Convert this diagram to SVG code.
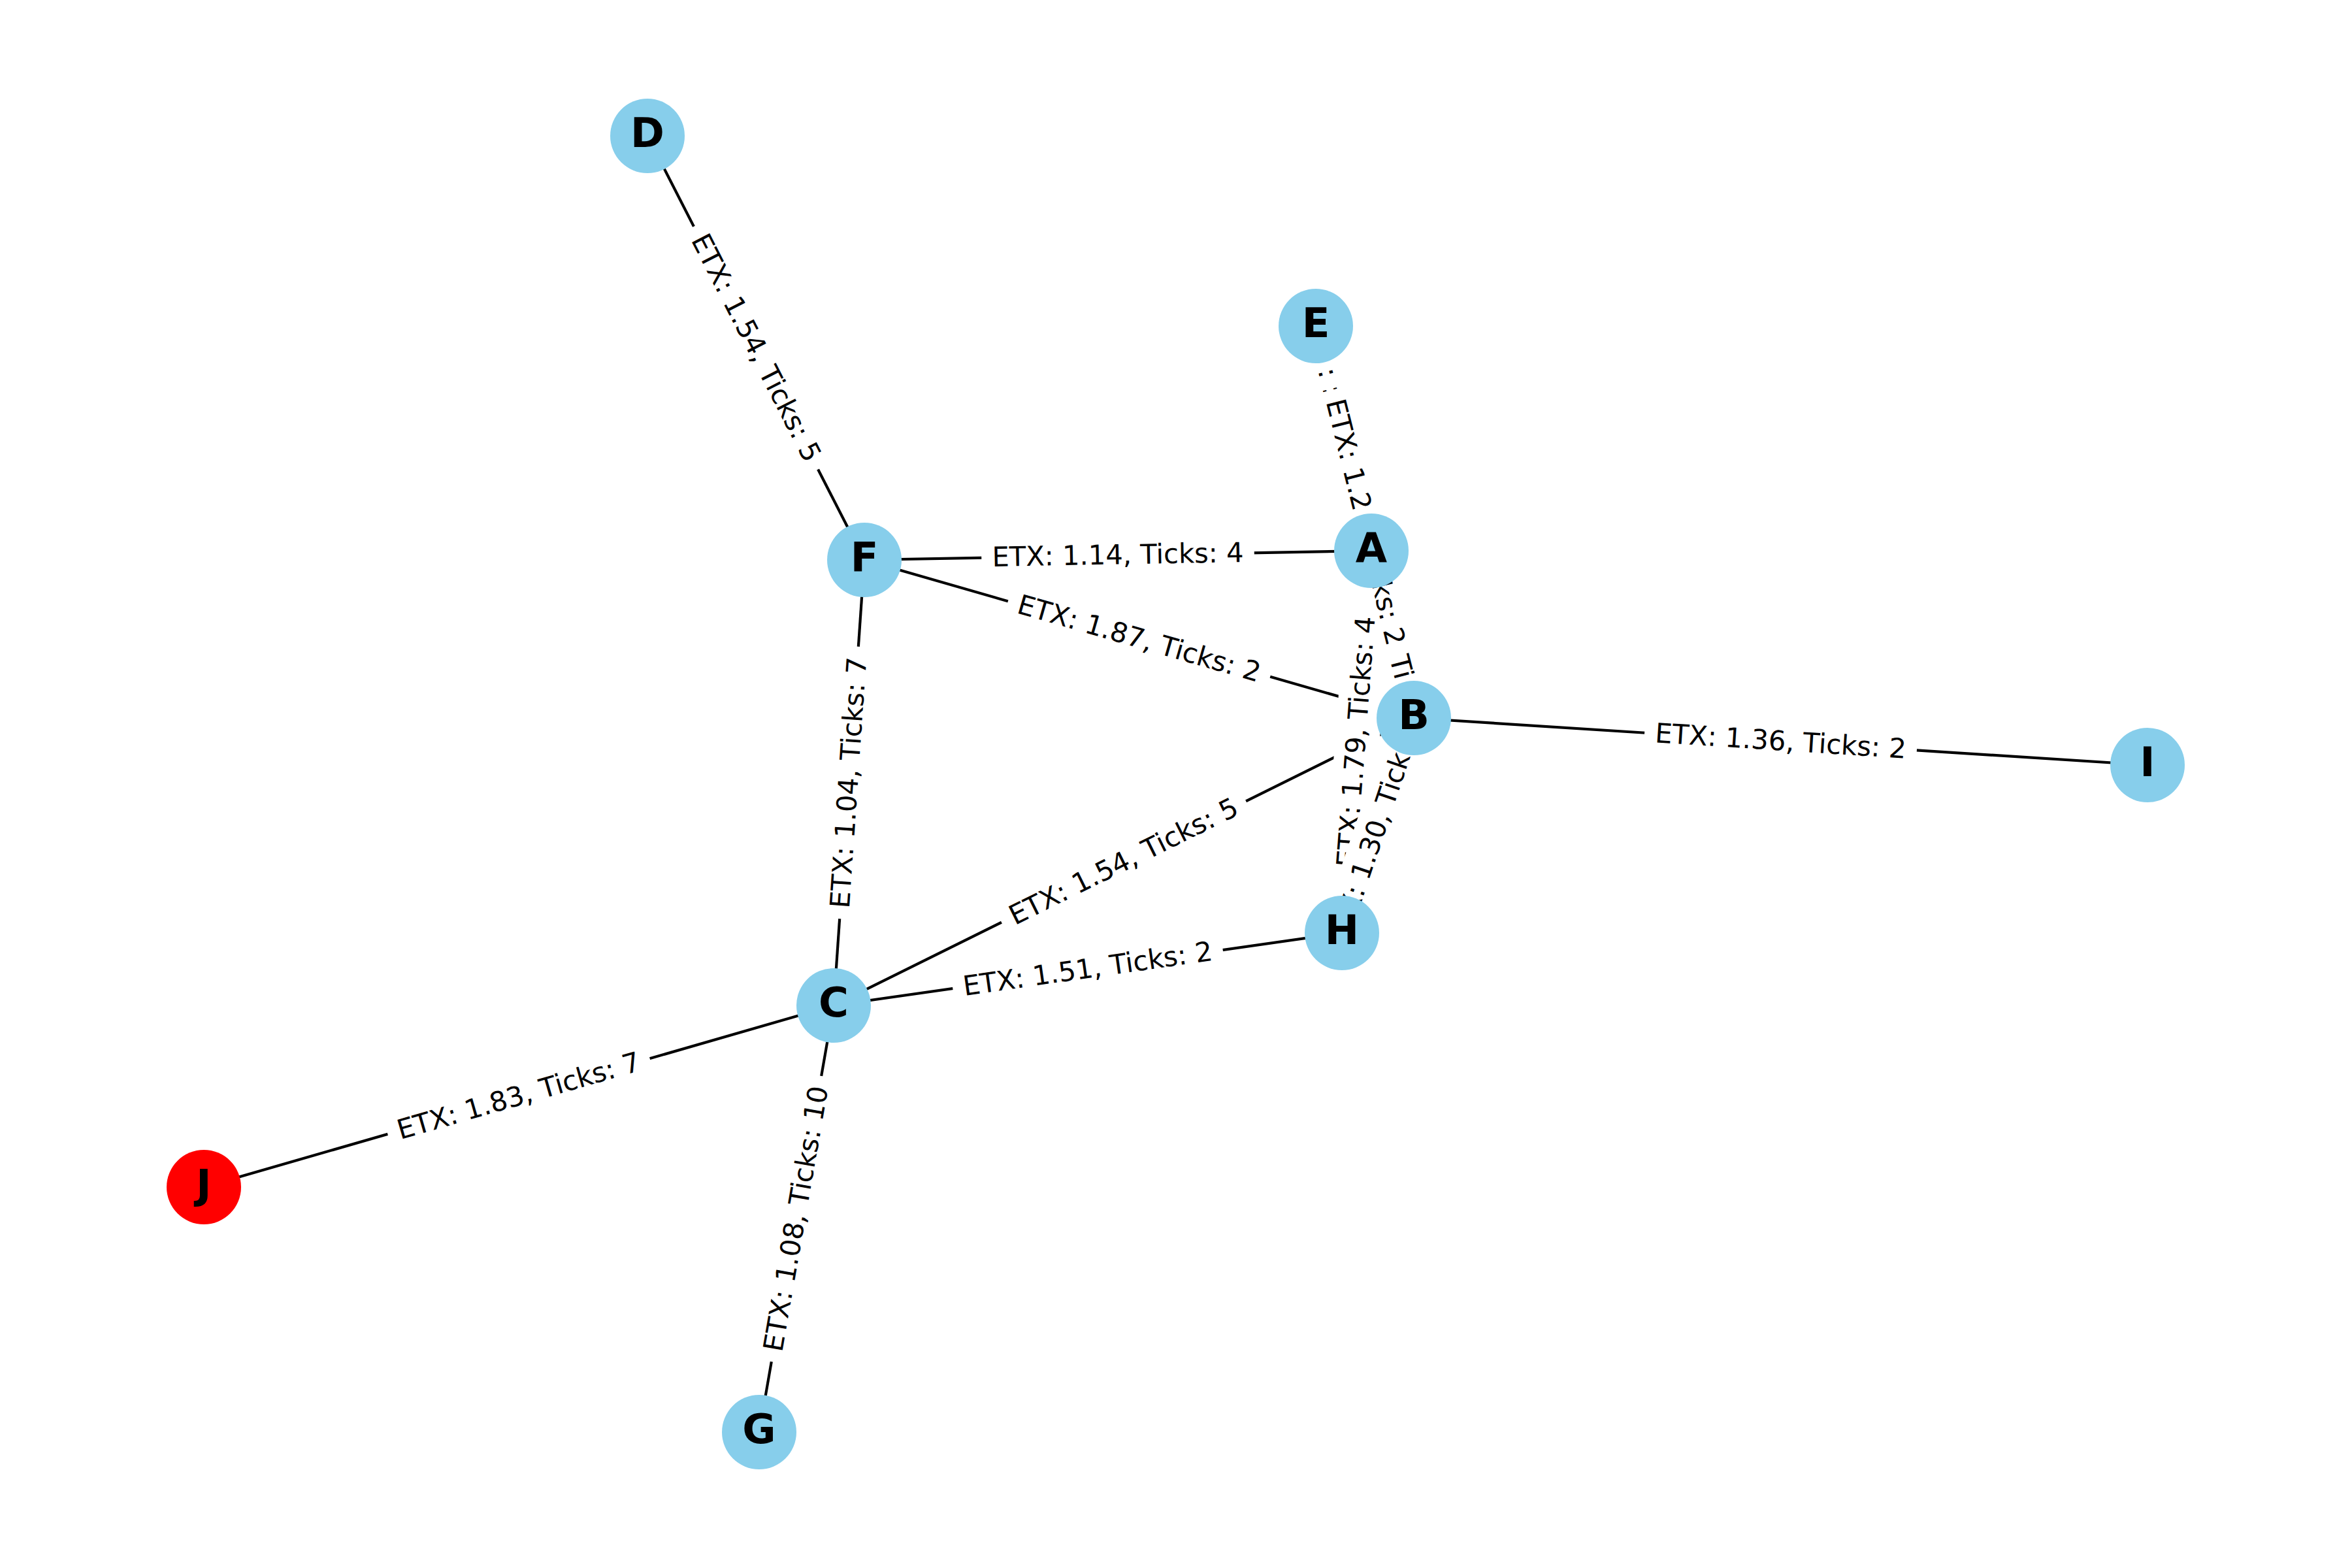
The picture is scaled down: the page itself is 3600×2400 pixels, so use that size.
<svg xmlns="http://www.w3.org/2000/svg" width="3600" height="2400" viewBox="0 0 3600 2400">
<style>
.e line{stroke:#000;stroke-width:4.17;stroke-linecap:butt}
.lb rect{fill:#fff;stroke:#fff;stroke-width:2}
.lb text{font-family:'DejaVu Sans','Liberation Sans',sans-serif;font-size:41.67px;fill:#000}
.n circle{fill:#87CEEB}
.n.red circle{fill:#FF0000}
.n text{font-family:'DejaVu Sans','Liberation Sans',sans-serif;font-weight:bold;font-size:62.5px;fill:#000;text-anchor:middle}
</style>
<rect width="3600" height="2400" fill="#fff"/>
<g id="connectors">
<g class="e">
<line x1="991" y1="208" x2="1323" y2="857"/>
<line x1="1323" y1="857" x2="2099" y2="843"/>
<line x1="1323" y1="857" x2="2164" y2="1099"/>
<line x1="1323" y1="857" x2="1276" y2="1539"/>
<line x1="1276" y1="1539" x2="2164" y2="1099"/>
<line x1="1276" y1="1539" x2="2054" y2="1428"/>
<line x1="1276" y1="1539" x2="312" y2="1817"/>
<line x1="1276" y1="1539" x2="1162" y2="2192"/>
<line x1="2164" y1="1099" x2="3287" y2="1171"/>
<line x1="2099" y1="843" x2="2054" y2="1428"/>
<line x1="2054" y1="1428" x2="2164" y2="1099"/>
<line x1="2014" y1="499" x2="2164" y2="1099"/>
<line x1="2099" y1="843" x2="2164" y2="1099"/>
<line x1="2014" y1="499" x2="2099" y2="843"/>
</g>
<g class="lb">
<g transform="translate(1157,532.5) rotate(62.9)"><rect x="-207.8" y="-32" width="415.6" height="66" rx="12.5"/><text x="0" y="13.5" text-anchor="middle">ETX: 1.54, Ticks: 5</text></g>
<g transform="translate(1711,850) rotate(-1.03)"><rect x="-207.8" y="-32" width="415.6" height="66" rx="12.5"/><text x="0" y="13.5" text-anchor="middle">ETX: 1.14, Ticks: 4</text></g>
<g transform="translate(1743.5,978) rotate(16.05)"><rect x="-207.8" y="-32" width="415.6" height="66" rx="12.5"/><text x="0" y="13.5" text-anchor="middle">ETX: 1.87, Ticks: 2</text></g>
<g transform="translate(1299.5,1198) rotate(-86.06)"><rect x="-207.8" y="-32" width="415.6" height="66" rx="12.5"/><text x="0" y="13.5" text-anchor="middle">ETX: 1.04, Ticks: 7</text></g>
<g transform="translate(1720,1319) rotate(-26.36)"><rect x="-207.8" y="-32" width="415.6" height="66" rx="12.5"/><text x="0" y="13.5" text-anchor="middle">ETX: 1.54, Ticks: 5</text></g>
<g transform="translate(1665,1483.5) rotate(-8.12)"><rect x="-207.8" y="-32" width="415.6" height="66" rx="12.5"/><text x="0" y="13.5" text-anchor="middle">ETX: 1.51, Ticks: 2</text></g>
<g transform="translate(794,1678) rotate(-16.09)"><rect x="-207.8" y="-32" width="415.6" height="66" rx="12.5"/><text x="0" y="13.5" text-anchor="middle">ETX: 1.83, Ticks: 7</text></g>
<g transform="translate(1219,1865.5) rotate(-80.1)"><rect x="-221" y="-32" width="442" height="66" rx="12.5"/><text x="0" y="13.5" text-anchor="middle">ETX: 1.08, Ticks: 10</text></g>
<g transform="translate(2725.5,1135) rotate(3.67)"><rect x="-207.8" y="-32" width="415.6" height="66" rx="12.5"/><text x="0" y="13.5" text-anchor="middle">ETX: 1.36, Ticks: 2</text></g>
<g transform="translate(2056.6,671.2) rotate(76.24)"><rect x="-207.8" y="-32" width="415.6" height="66" rx="12.5"/><text x="-90" y="13.5" text-anchor="middle">: :</text></g>
<g transform="translate(2131.6,971.2) rotate(75.6)"><rect x="-207.8" y="-32" width="415.6" height="66" rx="12.5"/><text x="33.5" y="13.5" text-anchor="start">Ti</text></g>
<g transform="translate(2089.5,799.3) rotate(75.96)"><rect x="-207.8" y="-32" width="415.6" height="66" rx="12.5"/></g>
<g transform="translate(2076.4,1135.4) rotate(-85.6)"><rect x="-207.8" y="-32" width="415.6" height="66" rx="12.5"/></g>
<g transform="translate(2089.5,799.3) rotate(75.96)"><text x="-193.3" y="13.5" text-anchor="start">ETX: 1.2</text><text x="193.3" y="13.5" text-anchor="end">ks: 2</text></g>
<g transform="translate(2076.4,1135.4) rotate(-85.6)"><text x="0" y="13.5" text-anchor="middle">ETX: 1.79, Ticks: 4</text></g>
<g transform="translate(2109.1,1263.5) rotate(-71.36)"><rect x="-207.8" y="-32" width="415.6" height="66" rx="12.5"/><text x="-193.3" y="13.5" text-anchor="start">ETX: 1.30, Tick</text></g>
</g>
</g>
<g id="node-A" class="n"><circle cx="2099" cy="843" r="57"/><text x="2099" y="860">A</text></g>
<g id="node-B" class="n"><circle cx="2164" cy="1099" r="57"/><text x="2164" y="1116">B</text></g>
<g id="node-C" class="n"><circle cx="1276" cy="1539" r="57"/><text x="1276" y="1556">C</text></g>
<g id="node-D" class="n"><circle cx="991" cy="208" r="57"/><text x="991" y="225">D</text></g>
<g id="node-E" class="n"><circle cx="2014" cy="499" r="57"/><text x="2014" y="516">E</text></g>
<g id="node-F" class="n"><circle cx="1323" cy="857" r="57"/><text x="1323" y="874">F</text></g>
<g id="node-G" class="n"><circle cx="1162" cy="2192" r="57"/><text x="1162" y="2209">G</text></g>
<g id="node-H" class="n"><circle cx="2054" cy="1428" r="57"/><text x="2054" y="1445">H</text></g>
<g id="node-I" class="n"><circle cx="3287" cy="1171" r="57"/><text x="3287" y="1188">I</text></g>
<g id="node-J" class="n red"><circle cx="312" cy="1817" r="57"/><text x="312" y="1834">J</text></g>
</svg>
